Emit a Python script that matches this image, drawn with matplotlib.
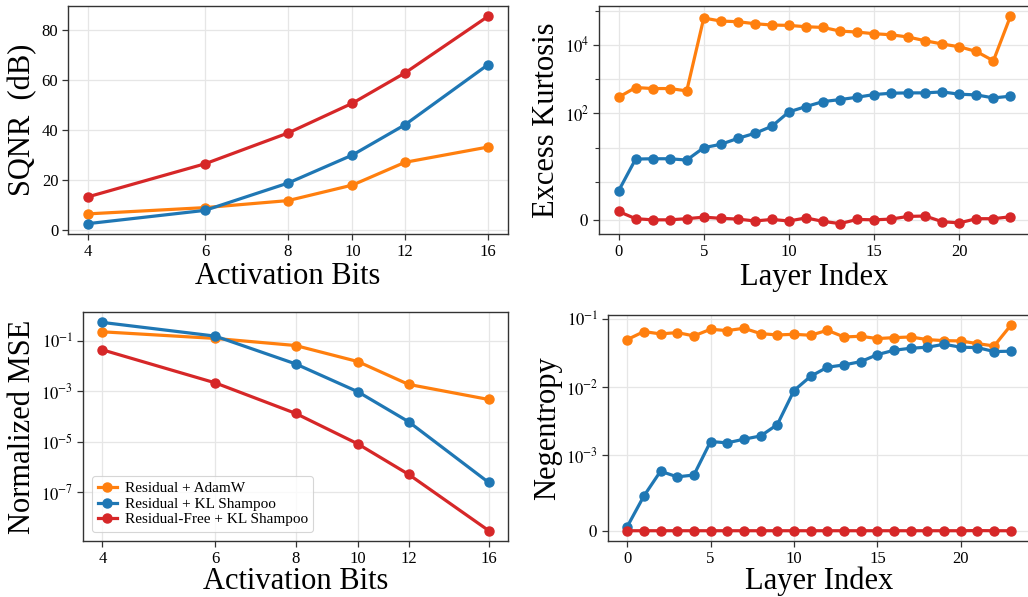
import numpy as np
import matplotlib
matplotlib.use("Agg")
import matplotlib.pyplot as plt
from matplotlib.ticker import FixedLocator, NullLocator, FixedFormatter

plt.rcParams['font.family'] = ['serif']
plt.rcParams['font.serif'] = ['Liberation Serif', 'STIXGeneral', 'DejaVu Serif']
plt.rcParams['mathtext.fontset'] = 'stix'

# ---------------- data ----------------
bits = [4, 6, 8, 10, 12, 16]
labels = ["Residual + AdamW", "Residual + KL Shampoo", "Residual-Free + KL Shampoo"]
colors = ["#ff7f0e", "#1f77b4", "#d62728"]

sqnr_adamw = [6.4, 8.9, 11.7, 17.9, 27.0, 33.1]
sqnr_kl = [2.5, 7.8, 18.7, 29.9, 42.0, 66.0]
sqnr_free = [13.2, 26.4, 38.7, 50.6, 62.7, 85.3]

mse_adamw = [0.235, 0.128, 0.067, 0.0155, 1.91e-3, 4.8e-4]
mse_kl = [0.555, 0.158, 0.0125, 9.8e-4, 6.3e-5, 2.41e-7]
mse_free = [0.0452, 2.19e-3, 1.35e-4, 8.3e-6, 5.1e-7, 2.95e-9]

layers = list(range(24))
kurt_adamw = [294, 564, 527, 527, 451, 60300, 49300, 47100, 41200, 37700, 36800, 33600,
              32100, 25100, 23500, 21000, 19600, 16800, 13100, 10500, 8740, 6380, 3400, 67500]
kurt_kl = [0.76, 4.6, 4.7, 4.7, 4.3, 9.9, 12.4, 18.5, 26, 41.7, 110, 157,
           219, 251, 294, 352, 385, 394, 394, 421, 360, 344, 281, 315]
kurt_free = [0.22, 0.03, 0.0, 0.0, 0.03, 0.07, 0.04, 0.02, -0.03, 0.01, -0.03, 0.05,
             -0.04, -0.10, 0.01, 0.0, 0.02, 0.09, 0.10, -0.05, -0.08, 0.03, 0.03, 0.08]

neg_adamw = [0.0502, 0.0659, 0.0609, 0.0637, 0.0569, 0.0713, 0.0681, 0.0738, 0.0615, 0.0588,
             0.0601, 0.0582, 0.0689, 0.0549, 0.0562, 0.0520, 0.0537, 0.0549, 0.0502, 0.0485,
             0.0480, 0.0438, 0.0405, 0.0816]
neg_kl = [5.3e-5, 4.59e-4, 7.88e-4, 7.13e-4, 7.38e-4, 1.59e-3, 1.52e-3, 1.72e-3, 1.92e-3, 2.82e-3,
          8.93e-3, 0.0145, 0.0197, 0.0213, 0.0238, 0.0302, 0.0350, 0.0375, 0.0388, 0.0429,
          0.0388, 0.0383, 0.0335, 0.0339]
neg_free = [0.0, 0.0, 0.0, 0.0, 0.0, 0.0, 0.0, 0.0, 0.0, 0.0, 0.0, 0.0,
            0.0, 0.0, 0.0, 0.0, 0.0, 0.0, 0.0, 0.0, 0.0, 2e-6, 0.0, 0.0]

# ---------------- figure ----------------
fig = plt.figure(figsize=(10.28, 5.97), dpi=100)
W, H = 1028, 597

def ax_at(l, r, t, b):
    return fig.add_axes([l / W, 1 - b / H, (r - l) / W, (b - t) / H])

ax_tl = ax_at(68, 508, 6, 234)
ax_tr = ax_at(599, 1030, 6, 234)
ax_bl = ax_at(83, 508, 312, 541)
ax_br = ax_at(608, 1030, 315, 541)

LW = 2.3
MS = 6.5
TICK_FS = 12
LABEL_FS = 22
GRID_KW = dict(color="#e6e6e6", linewidth=0.9)

def style(ax):
    for s in ax.spines.values():
        s.set_color("#333333")
        s.set_linewidth(1.0)
    ax.tick_params(axis='both', which='both', direction='out', color="#333333",
                   labelsize=TICK_FS, labelcolor='black')
    ax.tick_params(which='major', length=4, width=0.9, pad=3)
    ax.tick_params(which='minor', length=3, width=0.8)
    ax.set_axisbelow(True)

def plot_series(ax, x, ys):
    for y, c, lab in zip(ys, colors, labels):
        ax.plot(x, y, '-o', color=c, lw=LW, ms=MS, label=lab)

# top-left: SQNR
plot_series(ax_tl, bits, [sqnr_adamw, sqnr_kl, sqnr_free])
ax_tl.set_xscale('log')
ax_tl.xaxis.set_major_locator(FixedLocator(bits))
ax_tl.xaxis.set_major_formatter(FixedFormatter([str(b) for b in bits]))
ax_tl.xaxis.set_minor_locator(NullLocator())
ax_tl.set_yticks([0, 20, 40, 60, 80])
ax_tl.grid(True, which='major', **GRID_KW)
ax_tl.set_xlabel("Activation Bits", fontsize=LABEL_FS, labelpad=2)
ax_tl.set_ylabel("SQNR  (dB)", fontsize=LABEL_FS, labelpad=3)
style(ax_tl)

# top-right: Excess kurtosis
plot_series(ax_tr, layers, [kurt_adamw, kurt_kl, kurt_free])
ax_tr.set_yscale('symlog', linthresh=1, linscale=1)
ax_tr.yaxis.set_major_locator(FixedLocator([0, 1e2, 1e4]))
ax_tr.yaxis.set_major_formatter(FixedFormatter(["$0$", "$10^{2}$", "$10^{4}$"]))
ax_tr.yaxis.set_minor_locator(FixedLocator([1, 10, 1e3, 1e5]))
ax_tr.set_xticks([0, 5, 10, 15, 20])
ax_tr.grid(True, which='both', **GRID_KW)
ax_tr.set_xlabel("Layer Index", fontsize=LABEL_FS, labelpad=2)
ax_tr.set_ylabel("Excess Kurtosis", fontsize=LABEL_FS, labelpad=3)
style(ax_tr)

# bottom-left: Normalized MSE
plot_series(ax_bl, bits, [mse_adamw, mse_kl, mse_free])
ax_bl.set_xscale('log')
ax_bl.set_yscale('log')
ax_bl.xaxis.set_major_locator(FixedLocator(bits))
ax_bl.xaxis.set_major_formatter(FixedFormatter([str(b) for b in bits]))
ax_bl.xaxis.set_minor_locator(NullLocator())
ax_bl.yaxis.set_major_locator(FixedLocator([1e-1, 1e-3, 1e-5, 1e-7]))
ax_bl.yaxis.set_major_formatter(FixedFormatter(["$10^{-1}$", "$10^{-3}$", "$10^{-5}$", "$10^{-7}$"]))
ax_bl.yaxis.set_minor_locator(NullLocator())
ax_bl.grid(True, which='major', **GRID_KW)
ax_bl.set_xlabel("Activation Bits", fontsize=LABEL_FS, labelpad=0)
ax_bl.set_ylabel("Normalized MSE", fontsize=LABEL_FS, labelpad=3)
leg = ax_bl.legend(loc='lower left', fontsize=11, frameon=True, fancybox=True,
                   handlelength=1.3, handletextpad=0.5, borderpad=0.35, labelspacing=0.12,
                   borderaxespad=0.6)
leg.get_frame().set_edgecolor("#cccccc")
leg.get_frame().set_linewidth(0.8)
style(ax_bl)

# bottom-right: Negentropy
plot_series(ax_br, layers, [neg_adamw, neg_kl, neg_free])
ax_br.set_yscale('symlog', linthresh=1e-3, linscale=1)
ax_br.yaxis.set_major_locator(FixedLocator([0, 1e-3, 1e-2, 1e-1]))
ax_br.yaxis.set_major_formatter(FixedFormatter(["$0$", "$10^{-3}$", "$10^{-2}$", "$10^{-1}$"]))
ax_br.yaxis.set_minor_locator(NullLocator())
ax_br.set_xticks([0, 5, 10, 15, 20])
ax_br.grid(True, which='major', **GRID_KW)
ax_br.set_xlabel("Layer Index", fontsize=LABEL_FS, labelpad=0)
ax_br.set_ylabel("Negentropy", fontsize=LABEL_FS, labelpad=3)
style(ax_br)

fig.savefig("out.png", dpi=100)
